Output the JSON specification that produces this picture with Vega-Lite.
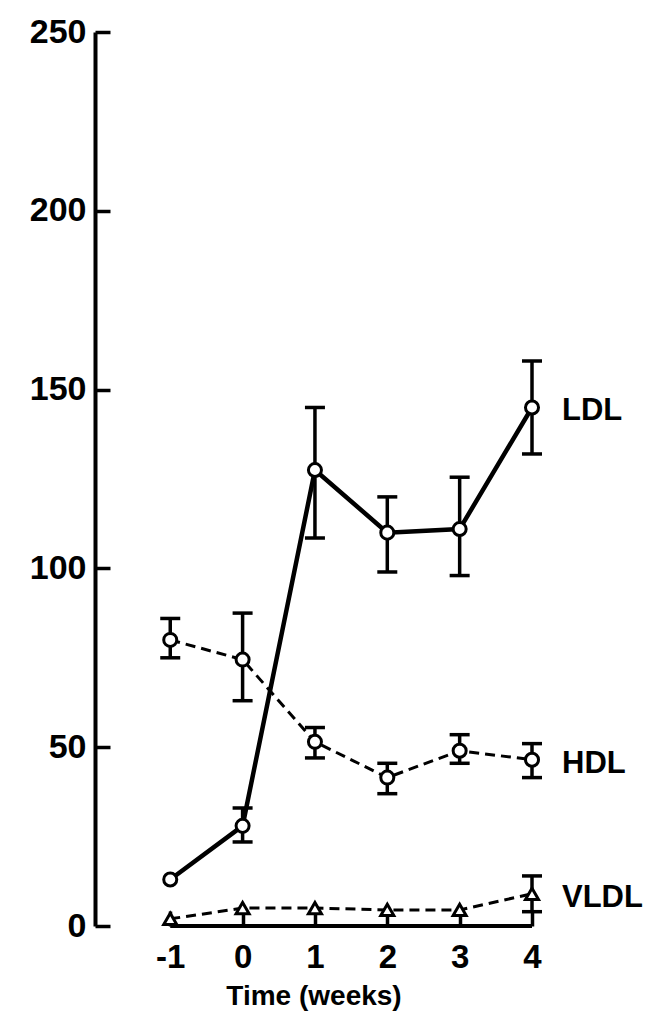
{
  "$schema": "https://vega.github.io/schema/vega-lite/v6.json",
  "width": 437,
  "height": 894,
  "autosize": {"type": "none"},
  "padding": {"left": 95, "top": 32, "right": 139, "bottom": 89},
  "background": "white",
  "config": {
    "view": {"stroke": null},
    "axis": {"grid": false}
  },
  "datasets": {
    "lipids": [
      {"series": "LDL", "week": -1, "value": 13, "lo": null, "hi": null},
      {"series": "LDL", "week": 0, "value": 28, "lo": 23.5, "hi": 33},
      {"series": "LDL", "week": 1, "value": 127.5, "lo": 108.5, "hi": 145},
      {"series": "LDL", "week": 2, "value": 110, "lo": 99, "hi": 120},
      {"series": "LDL", "week": 3, "value": 111, "lo": 98, "hi": 125.5},
      {"series": "LDL", "week": 4, "value": 145, "lo": 132, "hi": 158},
      {"series": "HDL", "week": -1, "value": 80, "lo": 75, "hi": 86},
      {"series": "HDL", "week": 0, "value": 74.5, "lo": 63, "hi": 87.5},
      {"series": "HDL", "week": 1, "value": 51.5, "lo": 47, "hi": 55.5},
      {"series": "HDL", "week": 2, "value": 41.5, "lo": 37, "hi": 45.5},
      {"series": "HDL", "week": 3, "value": 49, "lo": 45.5, "hi": 53.5},
      {"series": "HDL", "week": 4, "value": 46.5, "lo": 41.5, "hi": 51},
      {"series": "VLDL", "week": -1, "value": 2, "lo": null, "hi": null},
      {"series": "VLDL", "week": 0, "value": 5, "lo": null, "hi": null},
      {"series": "VLDL", "week": 1, "value": 5, "lo": null, "hi": null},
      {"series": "VLDL", "week": 2, "value": 4.5, "lo": null, "hi": null},
      {"series": "VLDL", "week": 3, "value": 4.5, "lo": null, "hi": null},
      {"series": "VLDL", "week": 4, "value": 9, "lo": 4, "hi": 14}
    ],
    "baseline": [{"from": -1, "to": 4, "level": 0}]
  },
  "layer": [
    {
      "data": {"name": "baseline"},
      "mark": {"type": "rule", "strokeWidth": 4, "color": "black"},
      "encoding": {
        "x": {
          "field": "from",
          "type": "quantitative",
          "scale": {"domain": [-2.04, 4], "nice": false, "zero": false},
          "axis": {
            "values": [-1, 0, 1, 2, 3, 4],
            "labelExpr": "'' + datum.value",
            "domain": false,
            "tickSize": -15,
            "tickWidth": 3.5,
            "tickColor": "black",
            "labelFont": "Liberation Sans",
            "labelFontWeight": "bold",
            "labelFontSize": 33,
            "labelColor": "black",
            "labelPadding": 30,
            "labelFlush": false,
            "labelOverlap": false,
            "title": "Time (weeks)",
            "titleFont": "Liberation Sans",
            "titleFontWeight": "bold",
            "titleFontSize": 28,
            "titleColor": "black",
            "titlePadding": 8
          }
        },
        "x2": {"field": "to"},
        "y": {
          "field": "level",
          "type": "quantitative",
          "scale": {"domain": [0, 250], "nice": false},
          "axis": {
            "values": [0, 50, 100, 150, 200, 250],
            "domain": true,
            "domainWidth": 4,
            "domainColor": "black",
            "tickSize": -15,
            "tickWidth": 3.5,
            "tickColor": "black",
            "labelFont": "Liberation Sans",
            "labelFontWeight": "bold",
            "labelFontSize": 34,
            "labelColor": "black",
            "labelPadding": 24,
            "labelOverlap": false,
            "title": null
          }
        }
      }
    },
    {
      "data": {"name": "lipids"},
      "transform": [{"filter": "datum.series === 'LDL'"}],
      "mark": {"type": "line", "strokeWidth": 4.5, "color": "black"},
      "encoding": {
        "x": {"field": "week", "type": "quantitative"},
        "y": {"field": "value", "type": "quantitative"}
      }
    },
    {
      "data": {"name": "lipids"},
      "transform": [{"filter": "datum.series !== 'LDL'"}],
      "mark": {"type": "line", "strokeWidth": 3, "color": "black", "strokeDash": [10, 6]},
      "encoding": {
        "x": {"field": "week", "type": "quantitative"},
        "y": {"field": "value", "type": "quantitative"},
        "detail": {"field": "series", "type": "nominal"}
      }
    },
    {
      "data": {"name": "lipids"},
      "transform": [{"filter": "datum.lo != null"}],
      "mark": {
        "type": "errorbar",
        "ticks": {"size": 20, "thickness": 3.5, "color": "black", "opacity": 1},
        "rule": {"strokeWidth": 3.5, "color": "black", "opacity": 1}
      },
      "encoding": {
        "x": {"field": "week", "type": "quantitative"},
        "y": {"field": "lo", "type": "quantitative"},
        "y2": {"field": "hi"}
      }
    },
    {
      "data": {"name": "lipids"},
      "mark": {"type": "point", "filled": true, "fill": "white", "stroke": "black", "strokeWidth": 3, "size": 170, "opacity": 1},
      "encoding": {
        "x": {"field": "week", "type": "quantitative"},
        "y": {"field": "value", "type": "quantitative"},
        "shape": {
          "field": "series",
          "type": "nominal",
          "scale": {"domain": ["LDL", "HDL", "VLDL"], "range": ["circle", "circle", "triangle-up"]},
          "legend": null
        }
      }
    },
    {
      "data": {"name": "lipids"},
      "transform": [{"filter": "datum.week === 4"}],
      "mark": {"type": "text", "align": "left", "baseline": "middle", "dx": 30, "dy": 4, "font": "Liberation Sans", "fontWeight": "bold", "fontSize": 31, "color": "black"},
      "encoding": {
        "x": {"field": "week", "type": "quantitative"},
        "y": {"field": "value", "type": "quantitative"},
        "text": {"field": "series"}
      }
    }
  ]
}
